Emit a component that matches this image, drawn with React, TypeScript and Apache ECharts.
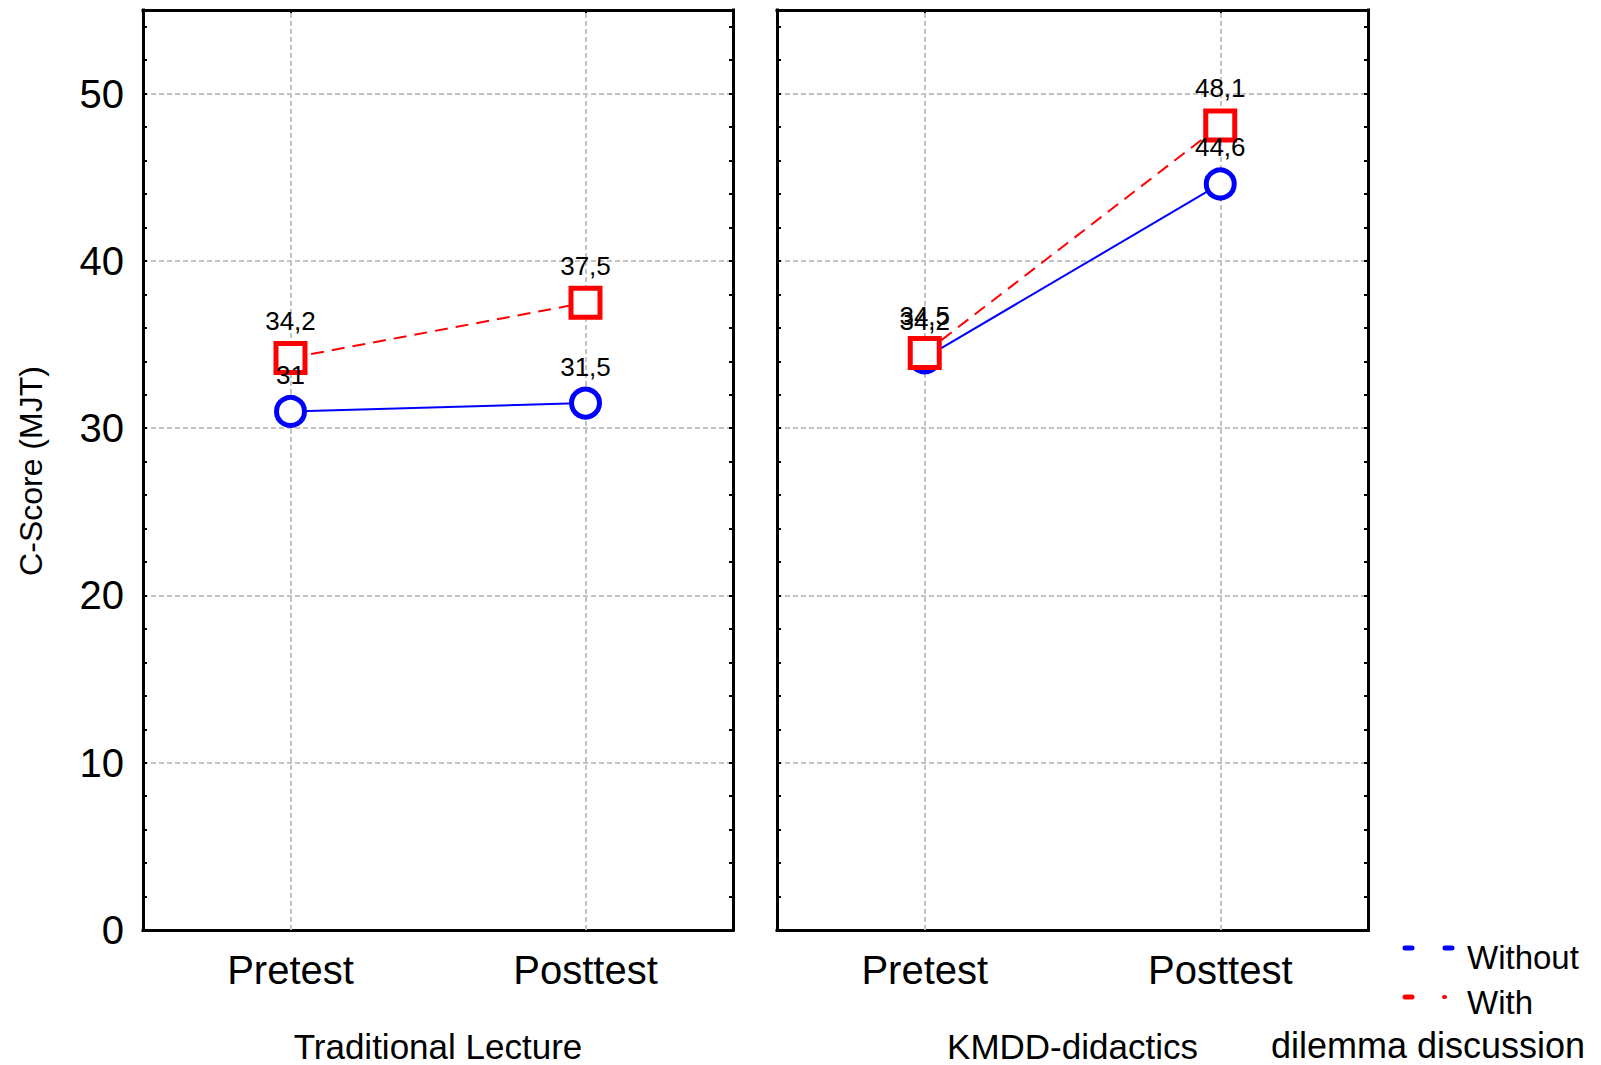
import React, { useEffect, useRef } from 'react';
import * as echarts from 'echarts';

const categories = ['Pretest', 'Posttest'];
const panelTitles = ['Traditional Lecture', 'KMDD-didactics'];
const withoutTraditional = [31, 31.5];
const withTraditional = [34.2, 37.5];
const withoutKmdd = [34.2, 44.6];
const withKmdd = [34.5, 48.1];
const yMin = 0;
const yMax = 55;
const yLabelStep = 10;
const yTickStep = 2;
const yAxisTitle = 'C-Score (MJT)';
const legendLabels = ['Without', 'With'];
const legendTitle = 'dilemma discussion';

const FONT = '"Liberation Sans", Arial, Helvetica, sans-serif';
const BLUE = '#0000ff';
const RED = '#ff0000';
const GRID_GRAY = '#c4c4c4';

const fmt = (v: number) => String(v).replace('.', ',');

export default function App() {
  const ref = useRef<HTMLDivElement>(null);
  useEffect(() => {
    if (!ref.current) return;
    const chart = echarts.init(ref.current, undefined, { renderer: 'svg' });
    const panels = [
      { without: withoutTraditional, with: withTraditional },
      { without: withoutKmdd, with: withKmdd },
    ];
    const grids = [
      { left: 143, top: 10, width: 590, height: 920, outerBoundsMode: 'none', containLabel: false },
      { left: 777, top: 10, width: 591, height: 920, outerBoundsMode: 'none', containLabel: false },
    ];
    const blackLine = { color: '#000', width: 3, cap: 'square' as const };
    const xAxis: any[] = [];
    const yAxis: any[] = [];
    const series: any[] = [];
    panels.forEach((p, g) => {
      xAxis.push({
        type: 'category', gridIndex: g, data: categories, boundaryGap: true, position: 'bottom',
        axisLine: { show: true, onZero: false, lineStyle: blackLine },
        axisTick: { show: true, inside: true, alignWithLabel: true, length: 5, lineStyle: { color: '#000', width: 2 } },
        axisLabel: { fontSize: 40, color: '#000', margin: 20, fontFamily: FONT },
        splitLine: { show: false },
        name: panelTitles[g], nameLocation: 'middle', nameGap: 99,
        nameTextStyle: { fontSize: 35, color: '#000', fontFamily: FONT },
      });
      xAxis.push({
        type: 'category', gridIndex: g, data: categories, boundaryGap: true, position: 'top',
        axisLine: { show: true, onZero: false, lineStyle: blackLine },
        axisTick: { show: true, inside: true, alignWithLabel: true, length: 5, lineStyle: { color: '#000', width: 2 } },
        axisLabel: { show: false },
        splitLine: { show: false },
      });
      yAxis.push({
        type: 'value', gridIndex: g, min: yMin, max: yMax, interval: yLabelStep, position: 'left',
        axisLine: { show: false }, axisTick: { show: false },
        axisLabel: {
          show: g === 0, fontSize: 40, color: '#000', margin: 19, fontFamily: FONT, showMaxLabel: false,
          formatter: (v: number) => (v > 50 ? '' : String(v)),
        },
        splitLine: { show: true, showMinLine: false, showMaxLine: false, lineStyle: { color: GRID_GRAY, width: 2, type: [5, 3] } },
      });
      ['left', 'right'].forEach((pos) => {
        yAxis.push({
          type: 'value', gridIndex: g, min: yMin, max: yMax, interval: yTickStep, position: pos,
          axisLine: { show: true, onZero: false, lineStyle: blackLine },
          axisTick: { show: true, inside: true, length: 4, lineStyle: { color: '#000', width: 2 } },
          axisLabel: { show: false },
          splitLine: { show: false },
        });
      });
      const label = {
        show: true, position: 'top', distance: 7, fontSize: 26, color: '#000', fontFamily: FONT,
        formatter: (pp: any) => fmt(pp.value),
      };
      series.push({
        type: 'line', name: legendLabels[0], xAxisIndex: 2 * g, yAxisIndex: 3 * g, data: p.without,
        symbol: 'circle', symbolSize: 28, z: 3,
        itemStyle: { color: '#fff', borderColor: BLUE, borderWidth: 5 },
        lineStyle: { color: BLUE, width: 2 },
        label,
        emphasis: { disabled: true },
        markLine: {
          silent: true, z: 1, symbol: ['none', 'none'], label: { show: false },
          lineStyle: { color: GRID_GRAY, width: 2, type: [5, 3] },
          emphasis: { disabled: true },
          data: categories.map((c) => ({ xAxis: c })),
        },
      });
      series.push({
        type: 'line', name: legendLabels[1], xAxisIndex: 2 * g, yAxisIndex: 3 * g, data: p.with,
        symbol: 'rect', symbolSize: 29, z: 3,
        itemStyle: { color: '#fff', borderColor: RED, borderWidth: 5 },
        lineStyle: { color: RED, width: 2, type: [13, 8] },
        label,
        emphasis: { disabled: true },
      });
    });

    const graphic: any[] = [
      {
        type: 'text', x: 31, y: 471, rotation: Math.PI / 2,
        style: { text: yAxisTitle, fontSize: 32, fontFamily: FONT, fill: '#000', align: 'center', verticalAlign: 'middle' },
      },
      { type: 'line', shape: { x1: 1405, y1: 948, x2: 1412, y2: 948 }, style: { stroke: BLUE, lineWidth: 5, lineCap: 'round' } },
      { type: 'line', shape: { x1: 1445, y1: 948, x2: 1452, y2: 948 }, style: { stroke: BLUE, lineWidth: 5, lineCap: 'round' } },
      { type: 'line', shape: { x1: 1405, y1: 997, x2: 1412, y2: 997 }, style: { stroke: RED, lineWidth: 5, lineCap: 'round' } },
      { type: 'line', shape: { x1: 1444, y1: 997, x2: 1445, y2: 997 }, style: { stroke: RED, lineWidth: 4, lineCap: 'round' } },
      {
        type: 'text', x: 1467, y: 957,
        style: { text: legendLabels[0], fontSize: 33, fontFamily: FONT, fill: '#000', align: 'left', verticalAlign: 'middle' },
      },
      {
        type: 'text', x: 1467, y: 1002,
        style: { text: legendLabels[1], fontSize: 33, fontFamily: FONT, fill: '#000', align: 'left', verticalAlign: 'middle' },
      },
      {
        type: 'text', x: 1428, y: 1045,
        style: { text: legendTitle, fontSize: 36, fontFamily: FONT, fill: '#000', align: 'center', verticalAlign: 'middle' },
      },
    ];

    chart.setOption({
      animation: false,
      backgroundColor: '#fff',
      textStyle: { fontFamily: FONT },
      grid: grids,
      xAxis,
      yAxis,
      series,
      graphic,
    });
    return () => chart.dispose();
  }, []);
  return (
    <div
      ref={ref}
      style={{ position: 'fixed', left: 0, top: 0, width: 1601, height: 1065, background: '#fff' }}
    />
  );
}
